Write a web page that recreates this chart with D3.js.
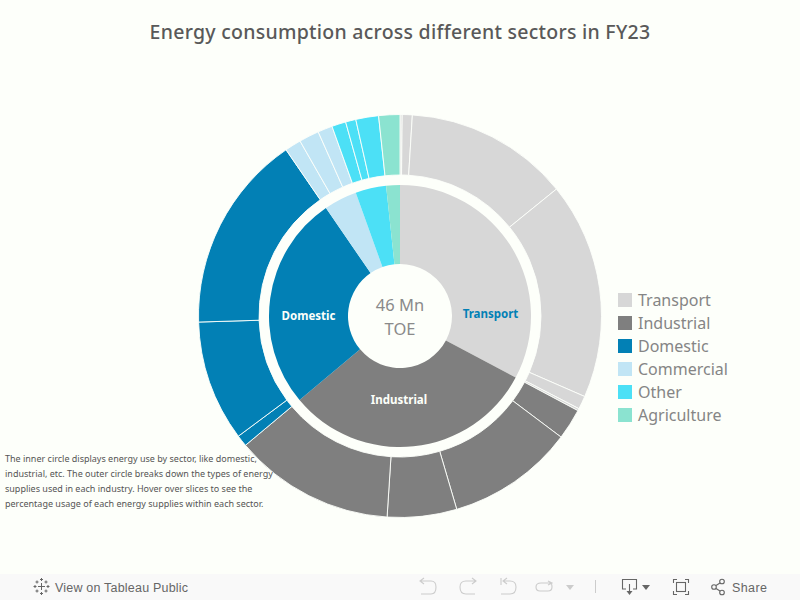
<!DOCTYPE html>
<html><head><meta charset="utf-8">
<script src="https://cdn.jsdelivr.net/npm/d3@7/dist/d3.min.js"></script>
<style>html,body{margin:0;padding:0;background:#fdfffa;overflow:hidden}svg{display:block}text{font-family:"Noto Sans",sans-serif}</style>
</head><body><svg id="c" width="800" height="600"></svg>
<script>
const sectors = ["Transport","Industrial","Domestic","Commercial","Other","Agriculture"];
const sectorValues = [15.08,14.32,12.2,1.88,1.74,0.78];
const sectorColors = ["#d7d7d7","#7f7f7f","#0280b5","#c1e5f5","#4ce0f6","#8be3d0"];
const outerSector = [0,0,0,0,0,0,1,1,1,1,2,2,2,3,3,3,4,4,4,5];
const outerValues = [0.08,0.37,6.06,8.0,0.49,0.08,1.14,4.69,2.56,5.93,0.42,4.46,7.32,0.60,0.74,0.54,0.52,0.38,0.84,0.78];
const noteLines = ["The inner circle displays energy use by sector, like domestic,",
 "industrial, etc. The outer circle breaks down the types of energy",
 "supplies used in each industry. Hover over slices to see the",
 "percentage usage of each energy supplies within each sector."];
const titleText = "Energy consumption across different sectors in FY23";
const centerLines = ["46 Mn","TOE"];

const BG="#fdfffa";
const svg=d3.select("#c");
const cx=400,cy=316;
const pie=d3.pie().sort(null).value(d=>d);
const g=svg.append("g").attr("transform",`translate(${cx},${cy})`);
const innerArc=d3.arc().innerRadius(52).outerRadius(131);
const outerArc=d3.arc().innerRadius(141).outerRadius(201.5);
g.selectAll("path.in").data(pie(sectorValues)).join("path").attr("class","in")
 .attr("d",innerArc).attr("fill",(d,i)=>sectorColors[i]);
g.selectAll("path.out").data(pie(outerValues)).join("path").attr("class","out")
 .attr("d",outerArc).attr("fill",(d,i)=>sectorColors[outerSector[i]])
 .attr("stroke",BG).attr("stroke-width",0.9);

svg.append("text").attr("x",400).attr("y",39).attr("text-anchor","middle")
 .attr("font-size",19.5).attr("font-weight",500).attr("letter-spacing",0.26).attr("fill","#595959").text(titleText);

g.selectAll("text.ctr").data(centerLines).join("text").attr("class","ctr")
 .attr("text-anchor","middle").attr("y",(d,i)=>-5+i*24).attr("font-size",16.5).attr("fill","#8a8a8a").text(d=>d);

const labels=[["Transport",90.5,-2.5,"#0280b5"],["Domestic",-91.5,-0.5,"#fdfffa"],["Industrial",-1,84,"#fdfffa"]];
g.selectAll("text.lab").data(labels).join("text").attr("class","lab")
 .attr("x",d=>d[1]).attr("y",d=>d[2]+4).attr("text-anchor","middle").attr("font-size",11.5)
 .attr("font-weight",700).attr("fill",d=>d[3]).text(d=>d[0]);

const leg=svg.append("g");
const y=d3.scalePoint().domain(sectors).range([300,415]);
leg.selectAll("rect").data(sectors).join("rect").attr("x",618).attr("y",d=>y(d)-7).attr("width",14).attr("height",14)
 .attr("fill",(d,i)=>sectorColors[i]);
leg.selectAll("text").data(sectors).join("text").attr("x",638).attr("y",d=>y(d)+6).attr("font-size",16)
 .attr("fill","#858585").text(d=>d);

svg.append("g").selectAll("text").data(noteLines).join("text").attr("x",5).attr("y",(d,i)=>462+i*15)
 .attr("font-size",9).attr("fill","#555").text(d=>d);

// toolbar
const tb=svg.append("g");
tb.append("rect").attr("x",0).attr("y",574).attr("width",800).attr("height",26).attr("fill","#f9f9f9");
const tf='"Liberation Sans",Arial,sans-serif';
tb.append("text").attr("x",55).attr("y",591.5).attr("font-size",12.5).attr("letter-spacing",0.2).attr("fill","#666").style("font-family",tf).text("View on Tableau Public");
tb.append("text").attr("x",732).attr("y",591.5).attr("font-size",12.5).attr("letter-spacing",0.4).attr("fill","#666").style("font-family",tf).text("Share");
const logo=tb.append("g").attr("stroke","#666").attr("fill","none").attr("stroke-width",1);
[[41.5,586.5,3.5],[41.5,579.5,1.5],[41.5,593.5,1.5],[35,586.5,1.5],[48,586.5,1.5],[37,582,1.5],[46,582,1.5],[37,591,1.5],[46,591,1.5]].forEach(([x,yy,s])=>{
 logo.append("path").attr("d",`M${x-s},${yy}H${x+s}M${x},${yy-s}V${yy+s}`);
});
const ic=tb.append("g").attr("fill","none").attr("stroke","#ccc").attr("stroke-width",1.1);
ic.append("path").attr("d","M421,581H431Q436,581 436,587Q436,594 431,594H421M424,578L420,581L424,584");
ic.append("path").attr("d","M476,581H466Q460,581 460,587Q460,594 466,594H475M472,578L476,581L472,584");
ic.append("path").attr("d","M501,578V585M504,581H510Q516,581 516,587Q516,594 510,594H501M507,578L503,581L507,584");
ic.append("path").attr("d","M541,583H550Q552,583 552,587Q552,591 548,591H540Q536,591 536,587Q536,583 541,583M548,581L552,583L548,585");
tb.append("path").attr("d","M566,585H574L570,590Z").attr("fill","#ccc");
tb.append("path").attr("d","M595.5,580V593").attr("stroke","#ccc").attr("fill","none");
const ic2=tb.append("g").attr("fill","none").attr("stroke","#666").attr("stroke-width",1.1);
ic2.append("path").attr("d","M626,589H622.5V579.5H636.5V589H633M629.5,584V591");
tb.append("path").attr("d","M626.5,591H632.5L629.5,595Z").attr("fill","#666");
tb.append("path").attr("d","M642,585H650L646,590Z").attr("fill","#666");
ic2.append("path").attr("d","M673.5,583V579.5H677M685,579.5H688.5V583M688.5,591V594.5H685M677,594.5H673.5V591");
ic2.append("rect").attr("x",676.5).attr("y",582.5).attr("width",9).attr("height",9);
ic2.append("circle").attr("cx",714).attr("cy",587).attr("r",2.3);
ic2.append("circle").attr("cx",722).attr("cy",581.5).attr("r",2.3);
ic2.append("circle").attr("cx",722).attr("cy",592.5).attr("r",2.3);
ic2.append("path").attr("d","M716,585.5L720,583M716,588.5L720,591");
</script></body></html>
